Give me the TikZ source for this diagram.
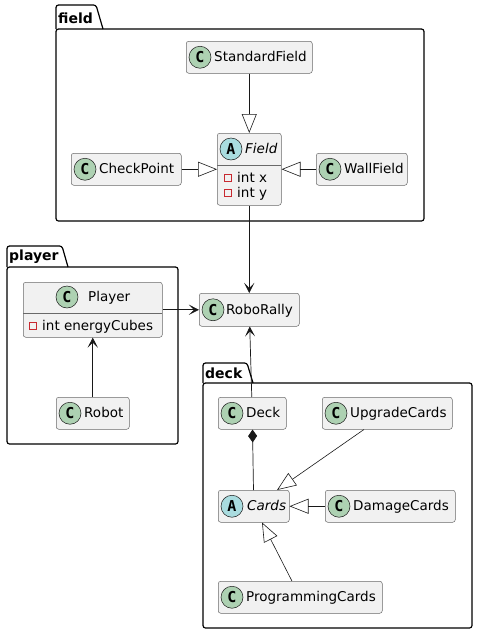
\documentclass[tikz,border=0pt]{standalone}
\usepackage{fontspec}
\setmainfont{DejaVu Sans}
\setmonofont{DejaVu Sans Mono}
\usetikzlibrary{arrows.meta,positioning}

\definecolor{boxfill}{HTML}{F1F1F1}
\definecolor{boxline}{HTML}{181818}
\definecolor{iconC}{HTML}{ADD1B2}
\definecolor{iconA}{HTML}{A9DCDF}
\definecolor{privred}{HTML}{C82930}

\tikzset{
    cls/.style={draw=boxline!65, fill=boxfill, rounded corners=2.5pt, line width=0.5pt, inner sep=0pt, anchor=north west},
    ci/.style={circle, draw=boxline, fill=iconC, line width=0.5pt, minimum size=22pt, inner sep=0pt, font=\ttfamily\bfseries\fontsize{15}{15}\selectfont},
    ai/.style={ci, fill=iconA},
    ctext/.style={anchor=west, inner sep=0pt, text depth=0.25ex, font=\fontsize{13.5}{16}\selectfont},
    privbox/.style={draw=privred, line width=1pt, sharp corners},
    pkg/.style={draw=black, line width=1.2pt, rounded corners=2.5pt},
    pkgname/.style={anchor=west, inner sep=0pt, font=\bfseries\fontsize{14}{16}\selectfont},
    inh/.style={draw=boxline, line width=0.6pt, -{Triangle[open, length=19pt, width=15pt]}},
    assoc/.style={draw=boxline, line width=0.7pt, -{Stealth[length=10pt, width=10pt, inset=5pt]}},
    comp/.style={draw=boxline, line width=0.7pt, {Diamond[length=13pt, width=9pt]}-}
}

\begin{document}
\begin{tikzpicture}[x=1pt, y=-1pt]
    \useasboundingbox (0,0) rectangle (477,635);

    % packages
    \draw[pkg] (56,29) rectangle (424,221);
    \draw[pkg] (56,29) |- (96,5) -- (103,29);
    \node[pkgname] (fieldname) at (58,18) {field};

    \draw[pkg] (7,267) rectangle (178,444);
    \draw[pkg] (7,267) |- (62,246) -- (68,267);
    \node[pkgname] (playername) at (9,257) {player};

    \draw[pkg] (203,383) rectangle (472,628);
    \draw[pkg] (203,383) |- (247,363) -- (253,383);
    \node[pkgname] (deckname) at (205,373) {deck};

    % field
    \node[cls, minimum width=126pt, minimum height=32pt] (StandardField) at (186,41) {};
    \node[ci] at ([xshift=14pt]StandardField.west) {C};
    \node[ctext] at ([xshift=28pt]StandardField.west) {StandardField};

    \node[cls, minimum width=64pt, minimum height=72pt] (Field) at (217,133) {};
    \draw[draw=boxline!65, line width=0.5pt] (217,165) -- (281,165);
    \node[ai] at (231,149) {A};
    \node[ctext] at (245,149) {\itshape Field};
    \draw[privbox] (224.5,174.5) rectangle (231.5,181.5);
    \node[ctext] at (237,178) {int x};
    \draw[privbox] (224.5,189.5) rectangle (231.5,196.5);
    \node[ctext] at (237,193) {int y};

    \node[cls, minimum width=110pt, minimum height=32pt] (CheckPoint) at (71,153) {};
    \node[ci] at ([xshift=14pt]CheckPoint.west) {C};
    \node[ctext] at ([xshift=28pt]CheckPoint.west) {CheckPoint};

    \node[cls, minimum width=91pt, minimum height=32pt] (WallField) at (316,153) {};
    \node[ci] at ([xshift=14pt]WallField.west) {C};
    \node[ctext] at ([xshift=28pt]WallField.west) {WallField};

    % player
    \node[cls, minimum width=139pt, minimum height=55pt] (Player) at (23,282) {};
    \draw[draw=boxline!65, line width=0.5pt] (23,313) -- (162,313);
    \node[ci] at (67,297) {C};
    \node[ctext] at (88,297) {Player};
    \draw[privbox] (29.5,322.5) rectangle (36.5,329.5);
    \node[ctext] at (42,326) {int energyCubes};

    \node[cls, minimum width=73pt, minimum height=32pt] (Robot) at (56,397) {};
    \node[ci] at ([xshift=14pt]Robot.west) {C};
    \node[ctext] at ([xshift=28pt]Robot.west) {Robot};

    \node[cls, minimum width=100pt, minimum height=33pt] (RoboRally) at (199,293) {};
    \node[ci] at ([xshift=14pt]RoboRally.west) {C};
    \node[ctext] at ([xshift=27pt]RoboRally.west) {RoboRally};

    % deck
    \node[cls, minimum width=68pt, minimum height=32pt] (Deck) at (218,397) {};
    \node[ci] at ([xshift=14pt]Deck.west) {C};
    \node[ctext] at ([xshift=28pt]Deck.west) {Deck};

    \node[cls, minimum width=130pt, minimum height=32pt] (UpgradeCards) at (322,397) {};
    \node[ci] at ([xshift=14pt]UpgradeCards.west) {C};
    \node[ctext] at ([xshift=28pt]UpgradeCards.west) {UpgradeCards};

    \node[cls, minimum width=71pt, minimum height=32pt] (Cards) at (218,490) {};
    \node[ai] at ([xshift=14pt]Cards.west) {A};
    \node[ctext] at ([xshift=29pt]Cards.west) {\itshape Cards};

    \node[cls, minimum width=130pt, minimum height=32pt] (DamageCards) at (325,490) {};
    \node[ci] at ([xshift=14pt]DamageCards.west) {C};
    \node[ctext] at ([xshift=28pt]DamageCards.west) {DamageCards};

    \node[cls, minimum width=164pt, minimum height=32pt] (ProgrammingCards) at (218,581) {};
    \node[ci] at ([xshift=14pt]ProgrammingCards.west) {C};
    \node[ctext] at ([xshift=28pt]ProgrammingCards.west) {ProgrammingCards};

    % relations
    \draw[inh] (StandardField) -- (Field);
    \draw[inh] (CheckPoint) -- (Field);
    \draw[inh] (WallField) -- (Field);
    \draw[assoc] (Field) -- (RoboRally);
    \draw[assoc] (Player) -- (RoboRally);
    \draw[assoc] (Robot) -- (Player);
    \draw[assoc] (Deck) -- (RoboRally);
    \draw[comp] (Deck) -- (Cards);
    \draw[inh] (UpgradeCards) -- (Cards);
    \draw[inh] (DamageCards) -- (Cards);
    \draw[inh] (ProgrammingCards) -- (Cards);
\end{tikzpicture}
\end{document}
